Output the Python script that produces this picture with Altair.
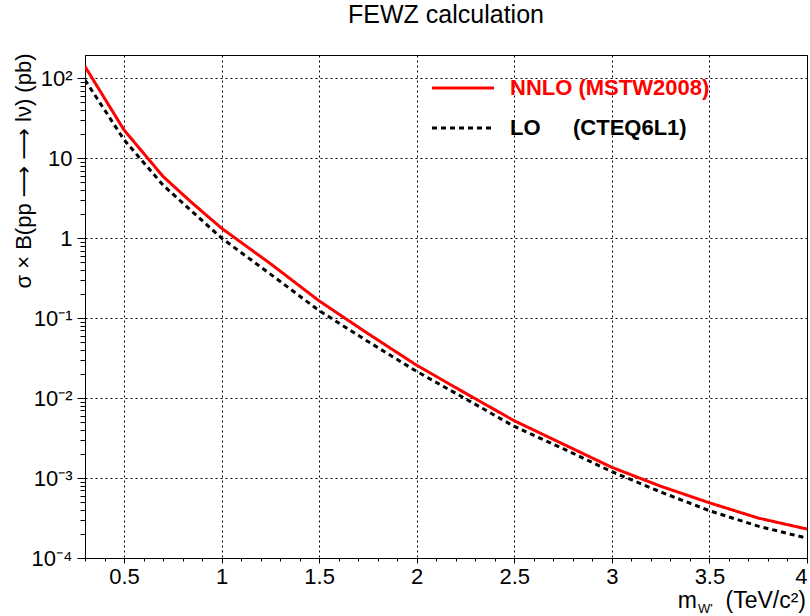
import altair as alt
import pandas as pd

# ---- data ----
mass = [0.3, 0.5, 0.7, 0.85, 1.0, 1.25, 1.5, 1.75, 2.0, 2.25, 2.5, 2.75, 3.0, 3.25, 3.5, 3.75, 4.0]
nnlo = [140, 22.5, 5.9, 2.74, 1.33, 0.48, 0.164, 0.064, 0.0257, 0.0115, 0.0052, 0.00266, 0.00136,
        7.9e-4, 4.9e-4, 3.16e-4, 2.3e-4]
lo = [95, 17, 4.6, 2.14, 1.0, 0.355, 0.124, 0.051, 0.0215, 0.0098, 0.00442, 0.00233, 0.0012,
      6.7e-4, 3.9e-4, 2.5e-4, 1.77e-4]
series_names = ["NNLO", "LO"]
series_colors = ["#ff0000", "#000000"]
legend_texts = ["NNLO (MSTW2008)", "LO", "(CTEQ6L1)"]
title_text = "FEWZ calculation"

x_minor = [round(0.3 + 0.1 * i, 1) for i in range(38)]
y_exps = [-4, -3, -2, -1, 0, 1, 2]
y_labels = ["10\u207b\u2074", "10\u207b\u00b3", "10\u207b\u00b2", "10\u207b\u00b9", "1", "10", "10\u00b2"]
y_major = [10.0 ** e for e in y_exps]
y_minor = [k * 10.0 ** e for e in range(-4, 3) for k in range(2, 10) if k * 10.0 ** e < 195]

FONT = "Liberation Sans"

df = pd.DataFrame({
    "mass": mass + mass,
    "xsec": nnlo + lo,
    "series": [series_names[0]] * len(mass) + [series_names[1]] * len(mass),
})

E = "log(datum.value)/LN10"
y_major_test = f"abs({E} - round({E})) < 0.001"
ylab_expr = "''"
for e, lab in zip(y_exps, y_labels):
    ylab_expr = f"(round({E}) == {e} ? '{lab}' : {ylab_expr})"
ylab_expr = f"({y_major_test}) ? {ylab_expr} : ''"

x_major_test = "abs(datum.value*2 - round(datum.value*2)) < 0.001"

lines = alt.Chart(df).mark_line(strokeWidth=3, clip=True).encode(
    x=alt.X("mass:Q",
            scale=alt.Scale(domain=[0.3, 4.0], nice=False, zero=False),
            axis=alt.Axis(values=x_minor, format="~g", title=None,
                          labelExpr=f"({x_major_test}) ? datum.label : ''",
                          labelFont=FONT, labelFontSize=22, labelColor="black",
                          labelPadding=3, labelOverlap=False, labelFlush=True,
                          tickColor="black", tickWidth=1,
                          tickSize={"condition": {"test": x_major_test, "value": 5}, "value": 3},
                          grid=True, gridColor="black", gridDash=[2, 3], gridWidth=1,
                          gridOpacity={"condition": {"test": x_major_test, "value": 1}, "value": 0},
                          domainColor="black", domainWidth=1)),
    y=alt.Y("xsec:Q",
            scale=alt.Scale(type="log", domain=[1e-4, 195], nice=False),
            axis=alt.Axis(values=y_major + y_minor,
                          labelExpr=ylab_expr,
                          labelFont=FONT, labelFontSize=22, labelColor="black",
                          labelPadding=5, labelOverlap=False,
                          tickColor="black", tickWidth=1,
                          tickSize={"condition": {"test": y_major_test, "value": 8}, "value": 5},
                          grid=True, gridColor="black", gridDash=[2, 3], gridWidth=1,
                          gridOpacity={"condition": {"test": y_major_test, "value": 1}, "value": 0},
                          domainColor="black", domainWidth=1,
                          title="\u03c3 \u00d7 B(pp \u27f6 \u27f6 l\u03bd) (pb)",
                          titleFont="Liberation Sans, DejaVu Sans", titleFontSize=22,
                          titleFontWeight="normal",
                          titleColor="black", titleAngle=-90, titleAlign="right",
                          titleBaseline="alphabetic", titleX=-55, titleY=-2)),
    color=alt.Color("series:N", scale=alt.Scale(domain=series_names, range=series_colors), legend=None),
    strokeDash=alt.StrokeDash("series:N",
                              scale=alt.Scale(domain=series_names, range=[[1, 0], [5, 4]]),
                              legend=None),
)

one = pd.DataFrame({"a": [0]})

title_mark = alt.Chart(one).mark_text(text=title_text, font=FONT, fontSize=25, color="black",
                                      align="center", baseline="alphabetic").encode(
    x=alt.value(361), y=alt.value(-32))

leg_red = alt.Chart(one).mark_rule(color="#ff0000", strokeWidth=3).encode(
    x=alt.value(347), x2=alt.value(409), y=alt.value(33))
leg_blk = alt.Chart(one).mark_rule(color="black", strokeWidth=3, strokeDash=[5, 4]).encode(
    x=alt.value(347), x2=alt.value(409), y=alt.value(73))
leg_t1 = alt.Chart(one).mark_text(text=legend_texts[0], font=FONT, fontSize=22, fontWeight="bold",
                                  color="#ff0000", align="left", baseline="middle").encode(
    x=alt.value(425), y=alt.value(33))
leg_t2 = alt.Chart(one).mark_text(text=legend_texts[1], font=FONT, fontSize=22, fontWeight="bold",
                                  color="black", align="left", baseline="middle").encode(
    x=alt.value(425), y=alt.value(73))
leg_t3 = alt.Chart(one).mark_text(text=legend_texts[2], font=FONT, fontSize=22, fontWeight="bold",
                                  color="black", align="left", baseline="middle").encode(
    x=alt.value(488), y=alt.value(73))

xt_m = alt.Chart(one).mark_text(text="m", font=FONT, fontSize=23, color="black",
                                align="right", baseline="alphabetic").encode(
    x=alt.value(612), y=alt.value(553))
xt_w = alt.Chart(one).mark_text(text="W'", font=FONT, fontSize=13, color="black",
                                align="left", baseline="alphabetic").encode(
    x=alt.value(613), y=alt.value(558))
xt_u = alt.Chart(one).mark_text(text="(TeV/c\u00b2)", font=FONT, fontSize=23, color="black",
                                align="right", baseline="alphabetic").encode(
    x=alt.value(721), y=alt.value(553))

chart = alt.layer(lines, title_mark, leg_red, leg_blk, leg_t1, leg_t2, leg_t3,
                  xt_m, xt_w, xt_u).properties(
    width=722, height=503,
    padding={"left": 85, "top": 55, "right": 3, "bottom": 58},
    autosize=alt.AutoSizeParams(type="none"),
    background="white",
).configure_view(stroke="black", strokeWidth=1)

chart.save("out.html", embed_options={"renderer": "svg", "actions": False})
